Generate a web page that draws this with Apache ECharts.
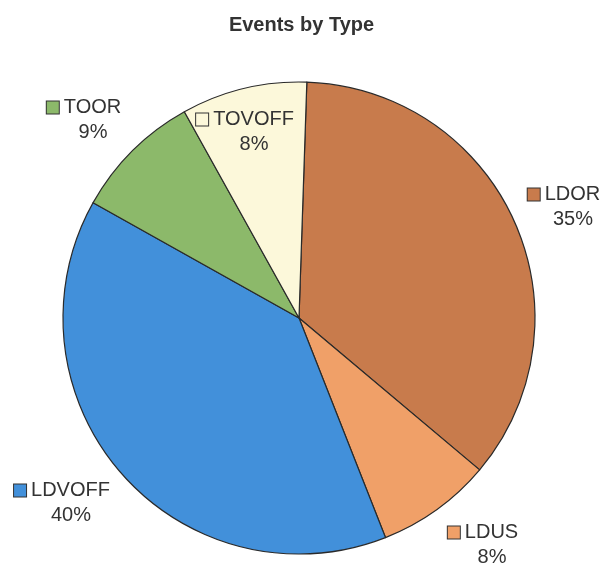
<!DOCTYPE html>
<html>
<head>
<meta charset="utf-8">
<script src="https://cdn.jsdelivr.net/npm/echarts@6/dist/echarts.min.js"></script>
<style>
html,body{margin:0;padding:0;background:#fff;}
#chart{width:603px;height:571px;}
</style>
</head>
<body>
<div id="chart"></div>
<script>
var categories = ['LDOR', 'LDUS', 'LDVOFF', 'TOOR', 'TOVOFF'];
var values = [35.6, 7.9, 39.1, 8.8, 8.6];
var pctLabels = ['35%', '8%', '40%', '9%', '8%'];
var colors = ['#c87b4c', '#f0a068', '#4290da', '#8cb96a', '#fcf8da'];

var labelPos = [[564, 207], [483, 545], [62, 503], [84, 120], [245, 132]];

var chart = echarts.init(document.getElementById('chart'), null, {renderer: 'canvas'});
var option = {
  backgroundColor: '#ffffff',
  animation: false,
  title: {
    text: 'Events by Type',
    left: 'center',
    top: 10,
    textStyle: {fontFamily: 'Liberation Sans, Arial', fontSize: 20, fontWeight: 'bold', color: '#333'}
  },
  series: [{
    type: 'pie',
    center: [299, 318],
    radius: [0, 236],
    startAngle: 88.1,
    clockwise: true,
    avoidLabelOverlap: false,
    itemStyle: {borderColor: '#2a2a2a', borderWidth: 1.2},
    labelLine: {show: false},
    label: {
      show: true,
      position: 'outside',
      align: 'center',
      fontFamily: 'Liberation Sans, Arial',
      fontSize: 20,
      color: '#333',
      lineHeight: 25,
      formatter: function (p) {
        return '{b' + p.dataIndex + '|}{n|' + p.name + '}\n{p|' + pctLabels[p.dataIndex] + '}';
      },
      rich: (function () {
        var r = {
          n: {fontFamily: 'Liberation Sans, Arial', fontSize: 20, color: '#333', lineHeight: 25, padding: [0, 0, 0, 5]},
          p: {fontFamily: 'Liberation Sans, Arial', fontSize: 20, color: '#333', lineHeight: 25, padding: [0, 0, 0, 18]}
        };
        for (var i = 0; i < categories.length; i++) {
          r['b' + i] = {width: 12, height: 12, backgroundColor: colors[i], borderColor: '#333', borderWidth: 1};
        }
        return r;
      })()
    },
    labelLayout: function (params) {
      var q = labelPos[params.dataIndex];
      return {x: q[0], y: q[1], align: 'center', verticalAlign: 'middle'};
    },
    data: categories.map(function (c, i) {
      return {name: c, value: values[i], itemStyle: {color: colors[i]}};
    })
  }]
};
chart.setOption(option);
</script>
</body>
</html>
